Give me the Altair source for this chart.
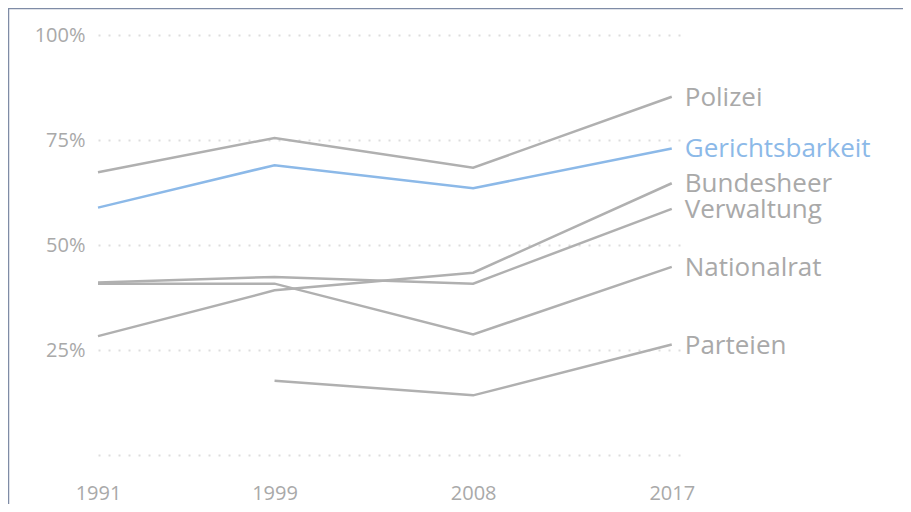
import altair as alt
import pandas as pd

years = [1991, 1999, 2008, 2017]
series = ["Polizei", "Gerichtsbarkeit", "Bundesheer", "Verwaltung", "Nationalrat", "Parteien"]
polizei = [67.3, 75.5, 68.4, 85.3]
gericht = [58.9, 69.0, 63.5, 73.0]
bundesheer = [28.3, 39.2, 43.4, 64.7]
verwaltung = [41.1, 42.4, 40.8, 58.6]
nationalrat = [40.8, 40.8, 28.7, 44.8]
parteien = [None, 17.7, 14.2, 26.3]
y_ticks = [0, 0.25, 0.5, 0.75, 1.0]

values = [polizei, gericht, bundesheer, verwaltung, nationalrat, parteien]
rows = []
for name, vals in zip(series, values):
    for yr, v in zip(years, vals):
        if v is not None:
            rows.append({"series": name, "year": yr, "value": v / 100})
df = pd.DataFrame(rows)
last = df[df["year"] == 2017]

GRAY = "#b0b0b0"
BLUE = "#8cb9e8"
TEXT = "#a9a9a9"
FONT = "Open Sans"
colors = alt.Scale(domain=series, range=[GRAY, BLUE, GRAY, GRAY, GRAY, GRAY])

x = alt.X("year:Q", scale=alt.Scale(domain=[1991, 2017.6], nice=False, zero=False),
          axis=alt.Axis(values=years, format="d", title=None, grid=False, domain=False,
                        ticks=False, labelFontSize=20, labelColor=TEXT, labelFont=FONT,
                        labelPadding=28, labelFlush=False))
y = alt.Y("value:Q", scale=alt.Scale(domain=[0, 1], nice=False),
          axis=alt.Axis(values=y_ticks, format=".0%", title=None, domain=False, ticks=False,
                        labelExpr="datum.value == 0 ? '' : datum.label",
                        labelFontSize=20, labelColor=TEXT, labelFont=FONT, labelPadding=13,
                        grid=True, gridColor="#dddddd", gridWidth=2, gridDash=[2, 8]))

lines = alt.Chart(df).mark_line(strokeWidth=2.5).encode(
    x=x, y=y,
    color=alt.Color("series:N", scale=colors, legend=None),
    detail="series:N",
)

labels = alt.Chart(last).mark_text(align="left", baseline="middle", dx=13, dy=1, fontSize=26,
                                   font=FONT).encode(
    x="year:Q", y="value:Q", text="series:N",
    color=alt.Color("series:N", scale=alt.Scale(domain=series,
                    range=[TEXT, BLUE, TEXT, TEXT, TEXT, TEXT]), legend=None),
)

frame_df = pd.DataFrame({"a": [0]})
top_rule = alt.Chart(frame_df).mark_rule(color="#7f8ca6", strokeWidth=1.5).encode(
    x=alt.value(-90), x2=alt.value(805), y=alt.value(-26.5))
left_rule = alt.Chart(frame_df).mark_rule(color="#7f8ca6", strokeWidth=1.5).encode(
    x=alt.value(-89.5), y=alt.value(-27), y2=alt.value(470))

chart = alt.layer(lines, labels, top_rule, left_rule).resolve_scale(color="independent").properties(
    width=587, height=420,
    padding={"left": 90, "top": 27, "right": 218, "bottom": 49},
    autosize=alt.AutoSizeParams(type="none"),
).configure_view(stroke=None)

chart.save("out.html", embed_options={"renderer": "svg", "actions": False})
